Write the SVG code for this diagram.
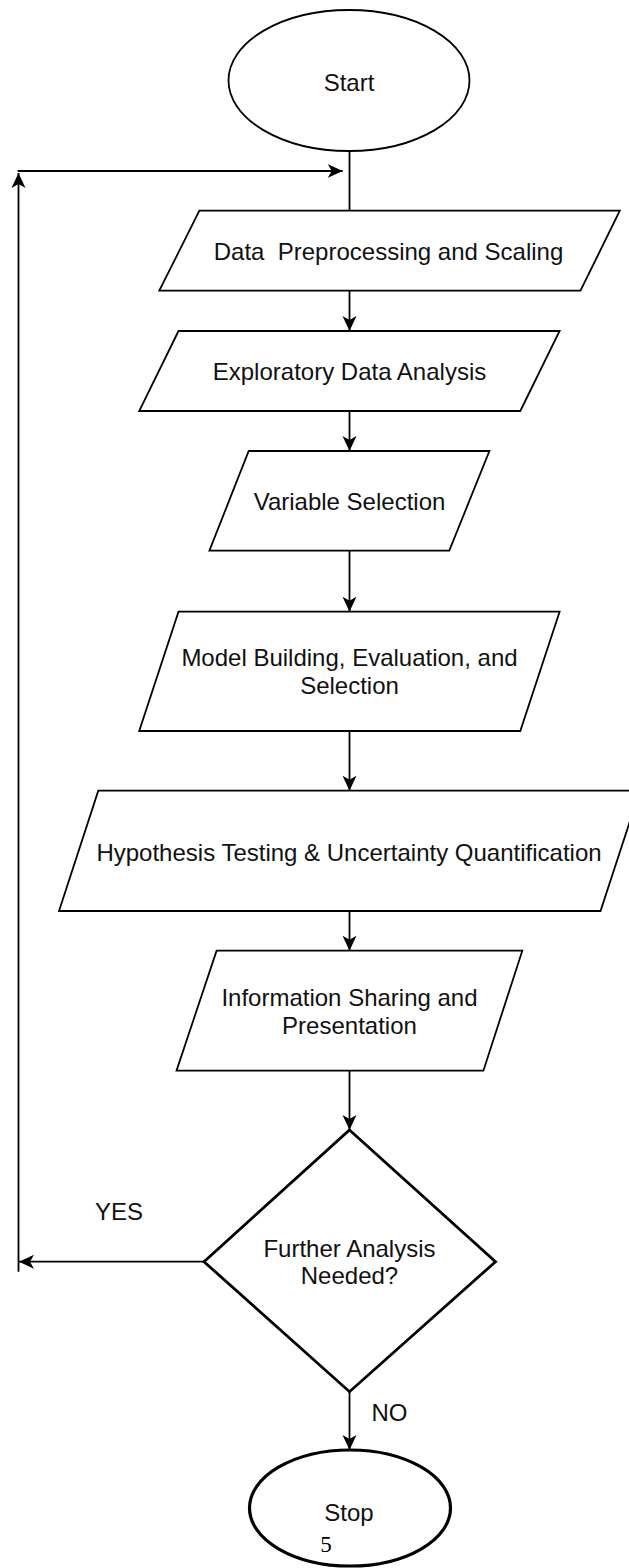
<svg xmlns="http://www.w3.org/2000/svg" width="629" height="1568" viewBox="0 0 629 1568">
<style>
.shape{fill:#fff;stroke:#000;stroke-width:1.8}
.bold{stroke-width:2.8}
.stop{stroke-width:3.2}
.lbl{font-family:"Liberation Sans",Arial,Helvetica,sans-serif;font-size:24px;fill:#111;text-anchor:middle}
.conn{fill:none;stroke:#000;stroke-width:1.8}
.num{font-family:"Liberation Serif","DejaVu Serif",serif;font-size:23px;fill:#000;text-anchor:middle}
</style>
<defs>
<marker id="arr" viewBox="0 0 15 15" refX="15" refY="7.5" markerWidth="15" markerHeight="15" markerUnits="userSpaceOnUse" orient="auto">
<path d="M0,0.5 L15,7.5 L0,14.5 L4,7.5 Z" fill="#000"/>
</marker>
</defs>
<rect width="629" height="1568" fill="#fff"/>
<g id="connectors">
<line class="conn" x1="349.5" y1="151" x2="349.5" y2="210.7"/>
<line class="conn" x1="349.5" y1="290.7" x2="349.5" y2="331" marker-end="url(#arr)"/>
<line class="conn" x1="349.5" y1="411" x2="349.5" y2="451" marker-end="url(#arr)"/>
<line class="conn" x1="349.5" y1="550.7" x2="349.5" y2="611.7" marker-end="url(#arr)"/>
<line class="conn" x1="349.5" y1="731" x2="349.5" y2="790.7" marker-end="url(#arr)"/>
<line class="conn" x1="349.5" y1="911" x2="349.5" y2="950.7" marker-end="url(#arr)"/>
<line class="conn" x1="349.5" y1="1070.7" x2="349.5" y2="1130" marker-end="url(#arr)"/>
<line class="conn" x1="349.5" y1="1391.7" x2="349.5" y2="1450" marker-end="url(#arr)"/>
<line class="conn" x1="204" y1="1261.7" x2="19" y2="1261.7" marker-end="url(#arr)"/>
<line class="conn" x1="18.5" y1="1271.7" x2="18.5" y2="173" marker-end="url(#arr)"/>
<line class="conn" x1="17.6" y1="171" x2="342.7" y2="171" marker-end="url(#arr)"/>
<text class="lbl" x="119" y="1220">YES</text>
<text class="lbl" x="389.5" y="1420.7">NO</text>
</g>
<g id="start">
<ellipse class="shape" cx="349" cy="80.5" rx="120.5" ry="70.5"/>
<text class="lbl" x="349" y="90.5">Start</text>
</g>
<g id="preprocessing">
<polygon class="shape" points="199.4,210.7 619.8,210.7 580.5,290.7 159.3,290.7"/>
<text class="lbl" x="388.5" y="260" xml:space="preserve">Data  Preprocessing and Scaling</text>
</g>
<g id="eda">
<polygon class="shape" points="178.5,331 559.6,331 520.3,411 139.2,411"/>
<text class="lbl" x="349.5" y="380">Exploratory Data Analysis</text>
</g>
<g id="variable-selection">
<polygon class="shape" points="248.7,451 489.4,451 449.3,550.7 209.4,550.7"/>
<text class="lbl" x="349.5" y="510">Variable Selection</text>
</g>
<g id="model-building">
<polygon class="shape" points="178.5,611.7 559.6,611.7 520.3,731 139.2,731"/>
<text class="lbl" x="349.5" y="666">Model Building, Evaluation, and</text>
<text class="lbl" x="349.5" y="694.3">Selection</text>
</g>
<g id="hypothesis-testing">
<polygon class="shape" points="98.3,790.7 640,790.7 600.5,911 59,911"/>
<text class="lbl" x="349" y="861">Hypothesis Testing &amp; Uncertainty Quantification</text>
</g>
<g id="information-sharing">
<polygon class="shape" points="216.6,950.7 522.3,950.7 483.4,1070.7 176.5,1070.7"/>
<text class="lbl" x="349.5" y="1006">Information Sharing and</text>
<text class="lbl" x="349.5" y="1034">Presentation</text>
</g>
<g id="decision">
<polygon class="shape bold" points="349.5,1130 495.5,1261.7 349.5,1391.7 204,1261.7"/>
<text class="lbl" x="349.5" y="1256.7">Further Analysis</text>
<text class="lbl" x="349.5" y="1284">Needed?</text>
</g>
<g id="stop">
<ellipse class="shape stop" cx="350" cy="1508" rx="100.5" ry="58"/>
<text class="lbl" x="349" y="1520.5">Stop</text>
</g>
<text class="num" x="326" y="1551.5">5</text>
</svg>
